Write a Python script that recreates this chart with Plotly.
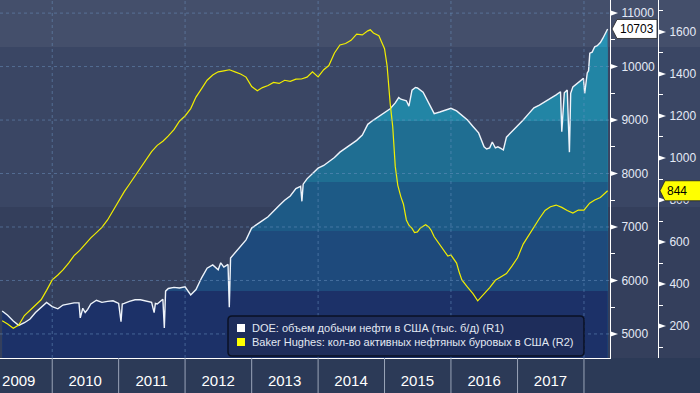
import numpy as np
import plotly.graph_objects as go

# ---------------- data ----------------
doe_dates = [
    "2009-04-01", "2009-05-01", "2009-06-01", "2009-07-01", "2009-08-01", "2009-09-01",
    "2009-10-01", "2009-11-01", "2009-12-01", "2010-01-01", "2010-02-01", "2010-03-01",
    "2010-04-01", "2010-05-01", "2010-05-28", "2010-06-04", "2010-06-18", "2010-07-01",
    "2010-07-15", "2010-08-01", "2010-09-01", "2010-10-01", "2010-11-01", "2010-12-01",
    "2011-01-01", "2011-01-14", "2011-01-21", "2011-02-01", "2011-03-01", "2011-04-01",
    "2011-05-01", "2011-06-01", "2011-07-01", "2011-07-15", "2011-07-22", "2011-08-01",
    "2011-09-01", "2011-09-09", "2011-09-16", "2011-10-01", "2011-11-01", "2011-12-01",
    "2012-01-01", "2012-02-01", "2012-03-01", "2012-04-01", "2012-05-01", "2012-06-01",
    "2012-07-01", "2012-07-15", "2012-08-01", "2012-08-24", "2012-08-31", "2012-09-07",
    "2012-10-01", "2012-11-01", "2012-12-01", "2013-01-01", "2013-02-01", "2013-03-01",
    "2013-04-01", "2013-05-01", "2013-06-01", "2013-07-01", "2013-08-01", "2013-09-01",
    "2013-09-27", "2013-10-04", "2013-10-11", "2013-11-01", "2013-12-01", "2014-01-01",
    "2014-02-01", "2014-03-01", "2014-04-01", "2014-05-01", "2014-06-01", "2014-07-01",
    "2014-08-01", "2014-09-01", "2014-10-01", "2014-11-01", "2014-12-01", "2015-01-01",
    "2015-02-01", "2015-03-01", "2015-03-20", "2015-04-01", "2015-05-01", "2015-05-15",
    "2015-06-01", "2015-06-20", "2015-07-01", "2015-08-01", "2015-09-01", "2015-10-01",
    "2015-11-01", "2015-12-01", "2016-01-01", "2016-02-01", "2016-03-01", "2016-04-01",
    "2016-05-01", "2016-06-01", "2016-07-01", "2016-07-15", "2016-08-01", "2016-08-15",
    "2016-09-01", "2016-09-15", "2016-10-01", "2016-10-15", "2016-11-01", "2016-12-01",
    "2017-01-01", "2017-02-01", "2017-03-01", "2017-04-01", "2017-05-01", "2017-06-01",
    "2017-07-01", "2017-08-01", "2017-08-25", "2017-09-01", "2017-09-15", "2017-10-01",
    "2017-10-13", "2017-10-20", "2017-11-01", "2017-12-01", "2017-12-29", "2018-01-05",
    "2018-01-19", "2018-01-26", "2018-02-02", "2018-02-15", "2018-03-01", "2018-03-15",
    "2018-04-01", "2018-04-15", "2018-05-01", "2018-05-11",
]
doe_values = [
    5430, 5350, 5240, 5160, 5210, 5280,
    5400, 5500, 5590, 5510, 5470, 5540,
    5560, 5580, 5580, 5300, 5480, 5400,
    5460, 5560, 5630, 5590, 5610, 5620,
    5570, 5230, 5560, 5570, 5610, 5640,
    5640, 5620, 5590, 5400, 5570, 5560,
    5650, 5110, 5800, 5850, 5870, 5860,
    5880, 5730, 5830, 6050, 6230, 6290,
    6200, 6330, 6250, 6300, 5500, 6420,
    6520, 6650, 6760, 6980, 7060, 7120,
    7190, 7300, 7400, 7500, 7580, 7720,
    7760, 7480, 7800, 7900, 8000, 8100,
    8150, 8220, 8300, 8400, 8470, 8550,
    8620, 8720, 8920, 9000, 9070, 9130,
    9210, 9320, 9420, 9390, 9360, 9260,
    9560, 9610, 9600, 9520, 9330, 9120,
    9150, 9180, 9220, 9170, 9090, 9000,
    8880, 8760, 8500, 8460, 8480, 8590,
    8480, 8500, 8470, 8440, 8680, 8780,
    8900, 9000, 9110, 9230, 9280, 9340,
    9400, 9470, 9530, 8780, 9510, 9560,
    8400, 9500, 9620, 9700, 9780, 9500,
    9880, 9920, 10250, 10270, 10370, 10390,
    10450, 10530, 10620, 10703,
]

rig_dates = [
    "2009-04-01", "2009-05-01", "2009-06-01", "2009-07-01", "2009-08-01", "2009-09-01",
    "2009-10-01", "2009-11-01", "2009-12-01", "2010-01-01", "2010-02-01", "2010-03-01",
    "2010-04-01", "2010-05-01", "2010-06-01", "2010-07-01", "2010-08-01", "2010-09-01",
    "2010-10-01", "2010-11-01", "2010-12-01", "2011-01-01", "2011-02-01", "2011-03-01",
    "2011-04-01", "2011-05-01", "2011-06-01", "2011-07-01", "2011-08-01", "2011-09-01",
    "2011-10-01", "2011-11-01", "2011-12-01", "2012-01-01", "2012-02-01", "2012-03-01",
    "2012-04-01", "2012-05-01", "2012-06-01", "2012-07-01", "2012-08-01", "2012-09-01",
    "2012-10-01", "2012-11-01", "2012-12-01", "2013-01-01", "2013-02-01", "2013-03-01",
    "2013-04-01", "2013-05-01", "2013-06-01", "2013-07-01", "2013-08-01", "2013-09-01",
    "2013-10-01", "2013-11-01", "2013-12-01", "2014-01-01", "2014-02-01", "2014-03-01",
    "2014-04-01", "2014-05-01", "2014-06-01", "2014-07-01", "2014-08-01", "2014-09-01",
    "2014-10-01", "2014-10-15", "2014-11-01", "2014-12-01", "2015-01-01", "2015-01-15",
    "2015-02-01", "2015-02-15", "2015-03-01", "2015-03-15", "2015-04-01", "2015-04-15",
    "2015-05-01", "2015-05-15", "2015-06-01", "2015-06-15", "2015-07-01", "2015-07-15",
    "2015-08-01", "2015-08-15", "2015-09-01", "2015-09-15", "2015-10-01", "2015-11-01",
    "2015-12-01", "2015-12-15", "2016-01-01", "2016-02-01", "2016-02-15", "2016-03-01",
    "2016-04-01", "2016-05-01", "2016-05-27", "2016-06-15", "2016-07-01", "2016-08-01",
    "2016-09-01", "2016-10-01", "2016-11-01", "2016-12-01", "2017-01-01", "2017-02-01",
    "2017-03-01", "2017-04-01", "2017-05-01", "2017-06-01", "2017-07-01", "2017-08-01",
    "2017-09-01", "2017-10-01", "2017-11-01", "2017-12-01", "2018-01-01", "2018-02-01",
    "2018-03-01", "2018-04-01", "2018-05-01", "2018-05-11",
]
rig_values = [
    225, 210, 190, 205, 250, 275,
    300, 325, 370, 420, 443, 467,
    500, 535, 560, 590, 620, 645,
    670, 705, 750, 800, 840, 875,
    915, 955, 990, 1030, 1060, 1080,
    1105, 1135, 1175, 1200, 1235, 1290,
    1330, 1370, 1395, 1410, 1415, 1420,
    1410, 1400, 1385, 1340, 1320, 1335,
    1345, 1360, 1355, 1370, 1365, 1375,
    1376, 1385, 1410, 1386, 1420, 1440,
    1500, 1538, 1545, 1560, 1590, 1586,
    1605, 1610, 1595, 1582, 1520, 1440,
    1260, 1150, 960, 870, 815, 780,
    705, 680, 665, 645, 648, 665,
    675, 682, 672, 655, 625, 585,
    552, 533, 538, 500, 457, 420,
    385, 354, 320, 338, 350, 383,
    418, 433, 450, 485, 525, 590,
    630, 672, 712, 750, 768, 776,
    765, 750, 738, 752, 752, 785,
    800, 812, 834, 844,
]

r1_ticks = [5000, 6000, 7000, 8000, 9000, 10000, 11000]
r1_minor = [4500, 5500, 6500, 7500, 8500, 9500, 10500]
r2_ticks = [200, 400, 600, 800, 1000, 1200, 1400, 1600]
r2_minor = [100, 300, 500, 700, 900, 1100, 1300, 1500, 1700]
year_labels = ["2009", "2010", "2011", "2012", "2013", "2014", "2015", "2016", "2017"]
year_centers = [f"{y}-07-01" for y in year_labels]
year_bounds = [f"{y}-01-01" for y in range(2010, 2019)]
grid_years = ["2010-01-01", "2012-01-01", "2014-01-01", "2016-01-01", "2018-01-01"]
last_doe = doe_values[-1]
last_rig = rig_values[-1]

name_doe = "DOE: объем добычи нефти в США (тыс. б/д) (R1)"
name_rig = "Baker Hughes: кол-во активных нефтяных буровых в США (R2)"

# ---------------- layout constants ----------------
W, H = 700, 393
PLOT_R = 610      # px of R1 axis / right edge of plot
PLOT_H = 358      # plot height (px)
R2_X = 658        # px of R2 axis
X_RANGE = ["2009-03-20", "2018-05-24"]
R1_RANGE = [4550, 11245]
R2_RANGE = [48, 1752]

def fx(px):
    return px / W

def fy(py):
    return 1 - py / PLOT_H

FONT = "Liberation Sans, Arial, sans-serif"
TICK_COL = "#e4eaf6"

# fill colour steps (upper bound in R1 units, colour)
fill_steps = [
    (None, "#2892b4"),
    (10365, "#2285a5"),
    (8980, "#1f6e92"),
    (7840, "#1d5a86"),
    (6925, "#1e4a7c"),
    (5805, "#1c3168"),
]

fig = go.Figure()

doe_arr = np.array(doe_values, dtype=float)
for top, col in fill_steps:
    yv = doe_arr if top is None else np.minimum(doe_arr, top)
    fig.add_trace(go.Scatter(
        x=doe_dates, y=yv, mode="lines", fill="tozeroy", fillcolor=col,
        line=dict(width=0, color=col), hoverinfo="skip", showlegend=False,
    ))

fig.add_trace(go.Scatter(
    x=doe_dates, y=doe_values, mode="lines", name=name_doe,
    line=dict(color="#eef3fa", width=1.4), showlegend=False,
))
fig.add_trace(go.Scatter(
    x=rig_dates, y=rig_values, mode="lines", name=name_rig, yaxis="y2",
    line=dict(color="#f2ee00", width=1.2), showlegend=False,
))

shapes = []
# background bands
for y0, y1, col in [(0, 47, "#444f6b"), (47, 207, "#3a4664"), (207, 358, "#343f5c")]:
    shapes.append(dict(type="rect", xref="paper", yref="paper", x0=0, x1=1,
                       y0=fy(y1), y1=fy(y0), fillcolor=col, line=dict(width=0), layer="below"))

grid_line = dict(color="rgba(110,150,195,0.5)", width=1, dash="3px,3px")
for t in r1_ticks:
    shapes.append(dict(type="line", xref="paper", yref="y", x0=0, x1=fx(PLOT_R),
                       y0=t, y1=t, line=grid_line, layer="above"))
for d in grid_years:
    shapes.append(dict(type="line", xref="x", yref="paper", x0=d, x1=d,
                       y0=0, y1=1, line=grid_line, layer="above"))

# year separators below the plot
for d in year_bounds:
    shapes.append(dict(type="line", xref="x", yref="paper", x0=d, x1=d,
                       y0=0, y1=fy(H), line=dict(color="#9aa4b8", width=1), layer="above"))

# triangle major ticks
tri = "M0,-2.8 L8,0 L0,2.8 Z"
for t in r1_ticks:
    shapes.append(dict(type="path", xref="paper", yref="y", xsizemode="pixel", ysizemode="pixel",
                       xanchor=fx(PLOT_R), yanchor=t, path=tri, fillcolor="white",
                       line=dict(width=0), layer="above"))
for t in r2_ticks:
    shapes.append(dict(type="path", xref="paper", yref="y2", xsizemode="pixel", ysizemode="pixel",
                       xanchor=fx(R2_X), yanchor=t, path=tri, fillcolor="white",
                       line=dict(width=0), layer="above"))

# last-value tags
shapes.append(dict(type="path", xref="paper", yref="y", xsizemode="pixel", ysizemode="pixel",
                   xanchor=fx(PLOT_R + 2), yanchor=last_doe,
                   path="M0,0 L5,9.5 L45,9.5 L45,-9.5 L5,-9.5 Z",
                   fillcolor="white", line=dict(color="#222222", width=0.8), layer="above"))
shapes.append(dict(type="path", xref="paper", yref="y2", xsizemode="pixel", ysizemode="pixel",
                   xanchor=fx(R2_X + 2), yanchor=last_rig,
                   path="M0,0 L5,10 L45,10 L45,-10 L5,-10 Z",
                   fillcolor="#ffff00", line=dict(color="#222222", width=0.8), layer="above"))

# legend box (manual)
lx0, lx1, ly0, ly1 = 228, 584, 316, 356
cx, cy = (lx0 + lx1) / 2, (ly0 + ly1) / 2
hw, hh, r = (lx1 - lx0) / 2, (ly1 - ly0) / 2, 4
legend_path = (f"M{-hw + r},{-hh} L{hw - r},{-hh} Q{hw},{-hh} {hw},{-hh + r} "
               f"L{hw},{hh - r} Q{hw},{hh} {hw - r},{hh} L{-hw + r},{hh} "
               f"Q{-hw},{hh} {-hw},{hh - r} L{-hw},{-hh + r} Q{-hw},{-hh} {-hw + r},{-hh} Z")
shapes.append(dict(type="path", xref="paper", yref="paper", xsizemode="pixel", ysizemode="pixel",
                   xanchor=fx(cx), yanchor=fy(cy), path=legend_path,
                   fillcolor="#1e2d5b", line=dict(color="#0a1124", width=1.5), layer="above"))
for row_y, col in [(328, "#ffffff"), (342, "#ffff00")]:
    shapes.append(dict(type="rect", xref="paper", yref="paper",
                       x0=fx(237), x1=fx(245), y0=fy(row_y + 4), y1=fy(row_y - 4),
                       fillcolor=col, line=dict(width=0), layer="above"))

annotations = [
    dict(text=name_doe, xref="paper", yref="paper", x=fx(250), y=fy(328), xanchor="left",
         yanchor="middle", showarrow=False, font=dict(family=FONT, size=11, color="#e2e8f2")),
    dict(text=name_rig, xref="paper", yref="paper", x=fx(250), y=fy(342), xanchor="left",
         yanchor="middle", showarrow=False, font=dict(family=FONT, size=11, color="#e2e8f2")),
    dict(text=f"{last_doe}", xref="paper", yref="y", x=fx(PLOT_R + 27), y=last_doe,
         xanchor="center", yanchor="middle", showarrow=False,
         font=dict(family=FONT, size=12, color="#000000")),
    dict(text=f"{last_rig}", xref="paper", yref="y2", x=fx(R2_X + 19), y=last_rig,
         xanchor="center", yanchor="middle", showarrow=False,
         font=dict(family=FONT, size=12, color="#000000")),
]

fig.update_layout(
    template="none",
    width=W, height=H,
    margin=dict(l=0, r=0, t=0, b=H - PLOT_H, pad=0),
    paper_bgcolor="#2c3a57",
    plot_bgcolor="rgba(0,0,0,0)",
    showlegend=False,
    shapes=shapes,
    annotations=annotations,
    xaxis=dict(
        type="date", domain=[0, fx(PLOT_R)], range=X_RANGE,
        tickmode="array", tickvals=year_centers, ticktext=year_labels,
        ticks="", showgrid=False, zeroline=False,
        showline=True, linecolor="white", linewidth=1,
        tickfont=dict(family="Liberation Sans Narrow, Liberation Sans, Arial Narrow, sans-serif",
                      size=15, color="white"),
        ticklabelstandoff=9, automargin=False,
    ),
    yaxis=dict(
        side="right", anchor="x", range=R1_RANGE,
        tickmode="array", tickvals=r1_ticks, tickformat="d",
        ticks="outside", ticklen=8, tickcolor="rgba(0,0,0,0)", tickwidth=1,
        minor=dict(tickmode="array", tickvals=r1_minor, ticks="outside", ticklen=4,
                   tickcolor="white", tickwidth=1, showgrid=False),
        showgrid=False, zeroline=False,
        showline=True, linecolor="white", linewidth=1,
        tickfont=dict(family=FONT, size=12, color=TICK_COL), automargin=False,
    ),
    yaxis2=dict(
        overlaying="y", side="right", anchor="free", position=fx(R2_X), range=R2_RANGE,
        tickmode="array", tickvals=r2_ticks, tickformat="d",
        ticks="outside", ticklen=8, tickcolor="rgba(0,0,0,0)", tickwidth=1,
        minor=dict(tickmode="array", tickvals=r2_minor, ticks="outside", ticklen=4,
                   tickcolor="white", tickwidth=1, showgrid=False),
        showgrid=False, zeroline=False,
        showline=True, linecolor="white", linewidth=1,
        tickfont=dict(family=FONT, size=12, color=TICK_COL), automargin=False,
    ),
)

fig.write_html(
    "out.html",
    config={"displayModeBar": False},
    post_script="document.body.style.margin='0';document.body.style.overflow='hidden';",
)
